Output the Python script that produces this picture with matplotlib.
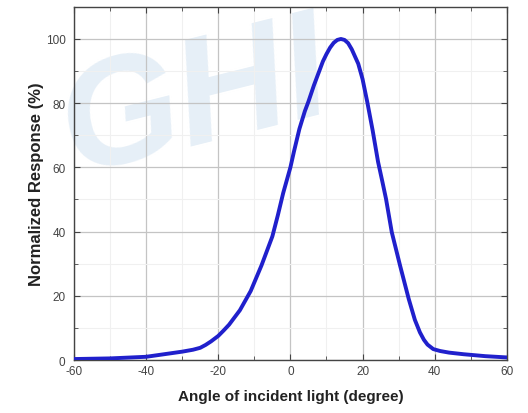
import numpy as np
import matplotlib
matplotlib.use("Agg")
import matplotlib.pyplot as plt
from matplotlib.ticker import MultipleLocator

plt.rcParams['font.family'] = ['Liberation Sans', 'DejaVu Sans']
plt.rcParams['axes.unicode_minus'] = False

# angle (degree) and normalized response (%)
angle = [-60, -50, -40, -35, -30, -27, -25, -23.5, -22, -20, -18.5, -17, -14,
         -11, -8, -6.5, -5, -3.5, -2, -1, 0, 1, 2.5, 4, 5, 6.5, 8, 9, 10, 11,
         12, 13, 14, 15, 16, 17, 18, 18.8, 20, 21.3, 22.8, 24.3, 25.5, 26.5,
         28.1, 30.4, 32.8, 34.5, 35.9, 37, 38, 39.6, 41.5, 44, 48, 54, 60]
response = [0.3, 0.5, 1.0, 1.8, 2.6, 3.2, 3.8, 4.7, 5.8, 7.5, 9.2, 11, 15.5,
            21.5, 29.5, 34, 38.5, 45, 52, 56, 60, 65, 72, 77.5, 80.5, 85.5,
            90, 93, 95.3, 97.3, 98.8, 99.7, 100, 99.7, 98.7, 96.8, 94.3, 92.3,
            87.5, 80.4, 71.5, 61.7, 55.5, 50.2, 39.8, 29.4, 19, 12.5, 8.6, 6.3,
            4.8, 3.4, 2.8, 2.3, 1.8, 1.2, 0.8]

xlabel = "Angle of incident light (degree)"
ylabel = "Normalized Response (%)"

fig = plt.figure(figsize=(5.28, 4.14), dpi=100)
ax = fig.add_axes([0.140, 0.128, 0.820, 0.853])

# faint watermark behind the plot
ax.text(0.37, 0.75, "GHI", transform=fig.transFigure, fontsize=110,
        fontweight='bold', fontstyle='italic', color='#e6eff7', rotation=14,
        ha='center', va='center', zorder=0.5, clip_on=False)

ax.plot(angle, response, color='#2020cc', lw=2.8, zorder=3,
        solid_capstyle='round', solid_joinstyle='round')

ax.set_xlim(-60, 60)
ax.set_ylim(0, 110)
ax.xaxis.set_major_locator(MultipleLocator(20))
ax.xaxis.set_minor_locator(MultipleLocator(10))
ax.yaxis.set_major_locator(MultipleLocator(20))
ax.yaxis.set_minor_locator(MultipleLocator(10))
ax.grid(which='major', color='#c4c4c4', lw=0.9)
ax.grid(which='minor', color='#f0f0f0', lw=0.8)
ax.tick_params(which='both', direction='in', top=True, right=True,
               colors='#444444', labelsize=8.5, length=4)
ax.tick_params(axis='y', pad=6)
ax.tick_params(which='minor', length=3)
for sp in ax.spines.values():
    sp.set_color('#444444')
    sp.set_linewidth(1.0)
ax.patch.set_alpha(0)

ax.set_xlabel(xlabel, fontsize=11, fontweight='bold', color='#222222', labelpad=9)
ax.set_ylabel(ylabel, fontsize=12, fontweight='bold', color='#222222', labelpad=1)

fig.savefig("out.png", dpi=100)
